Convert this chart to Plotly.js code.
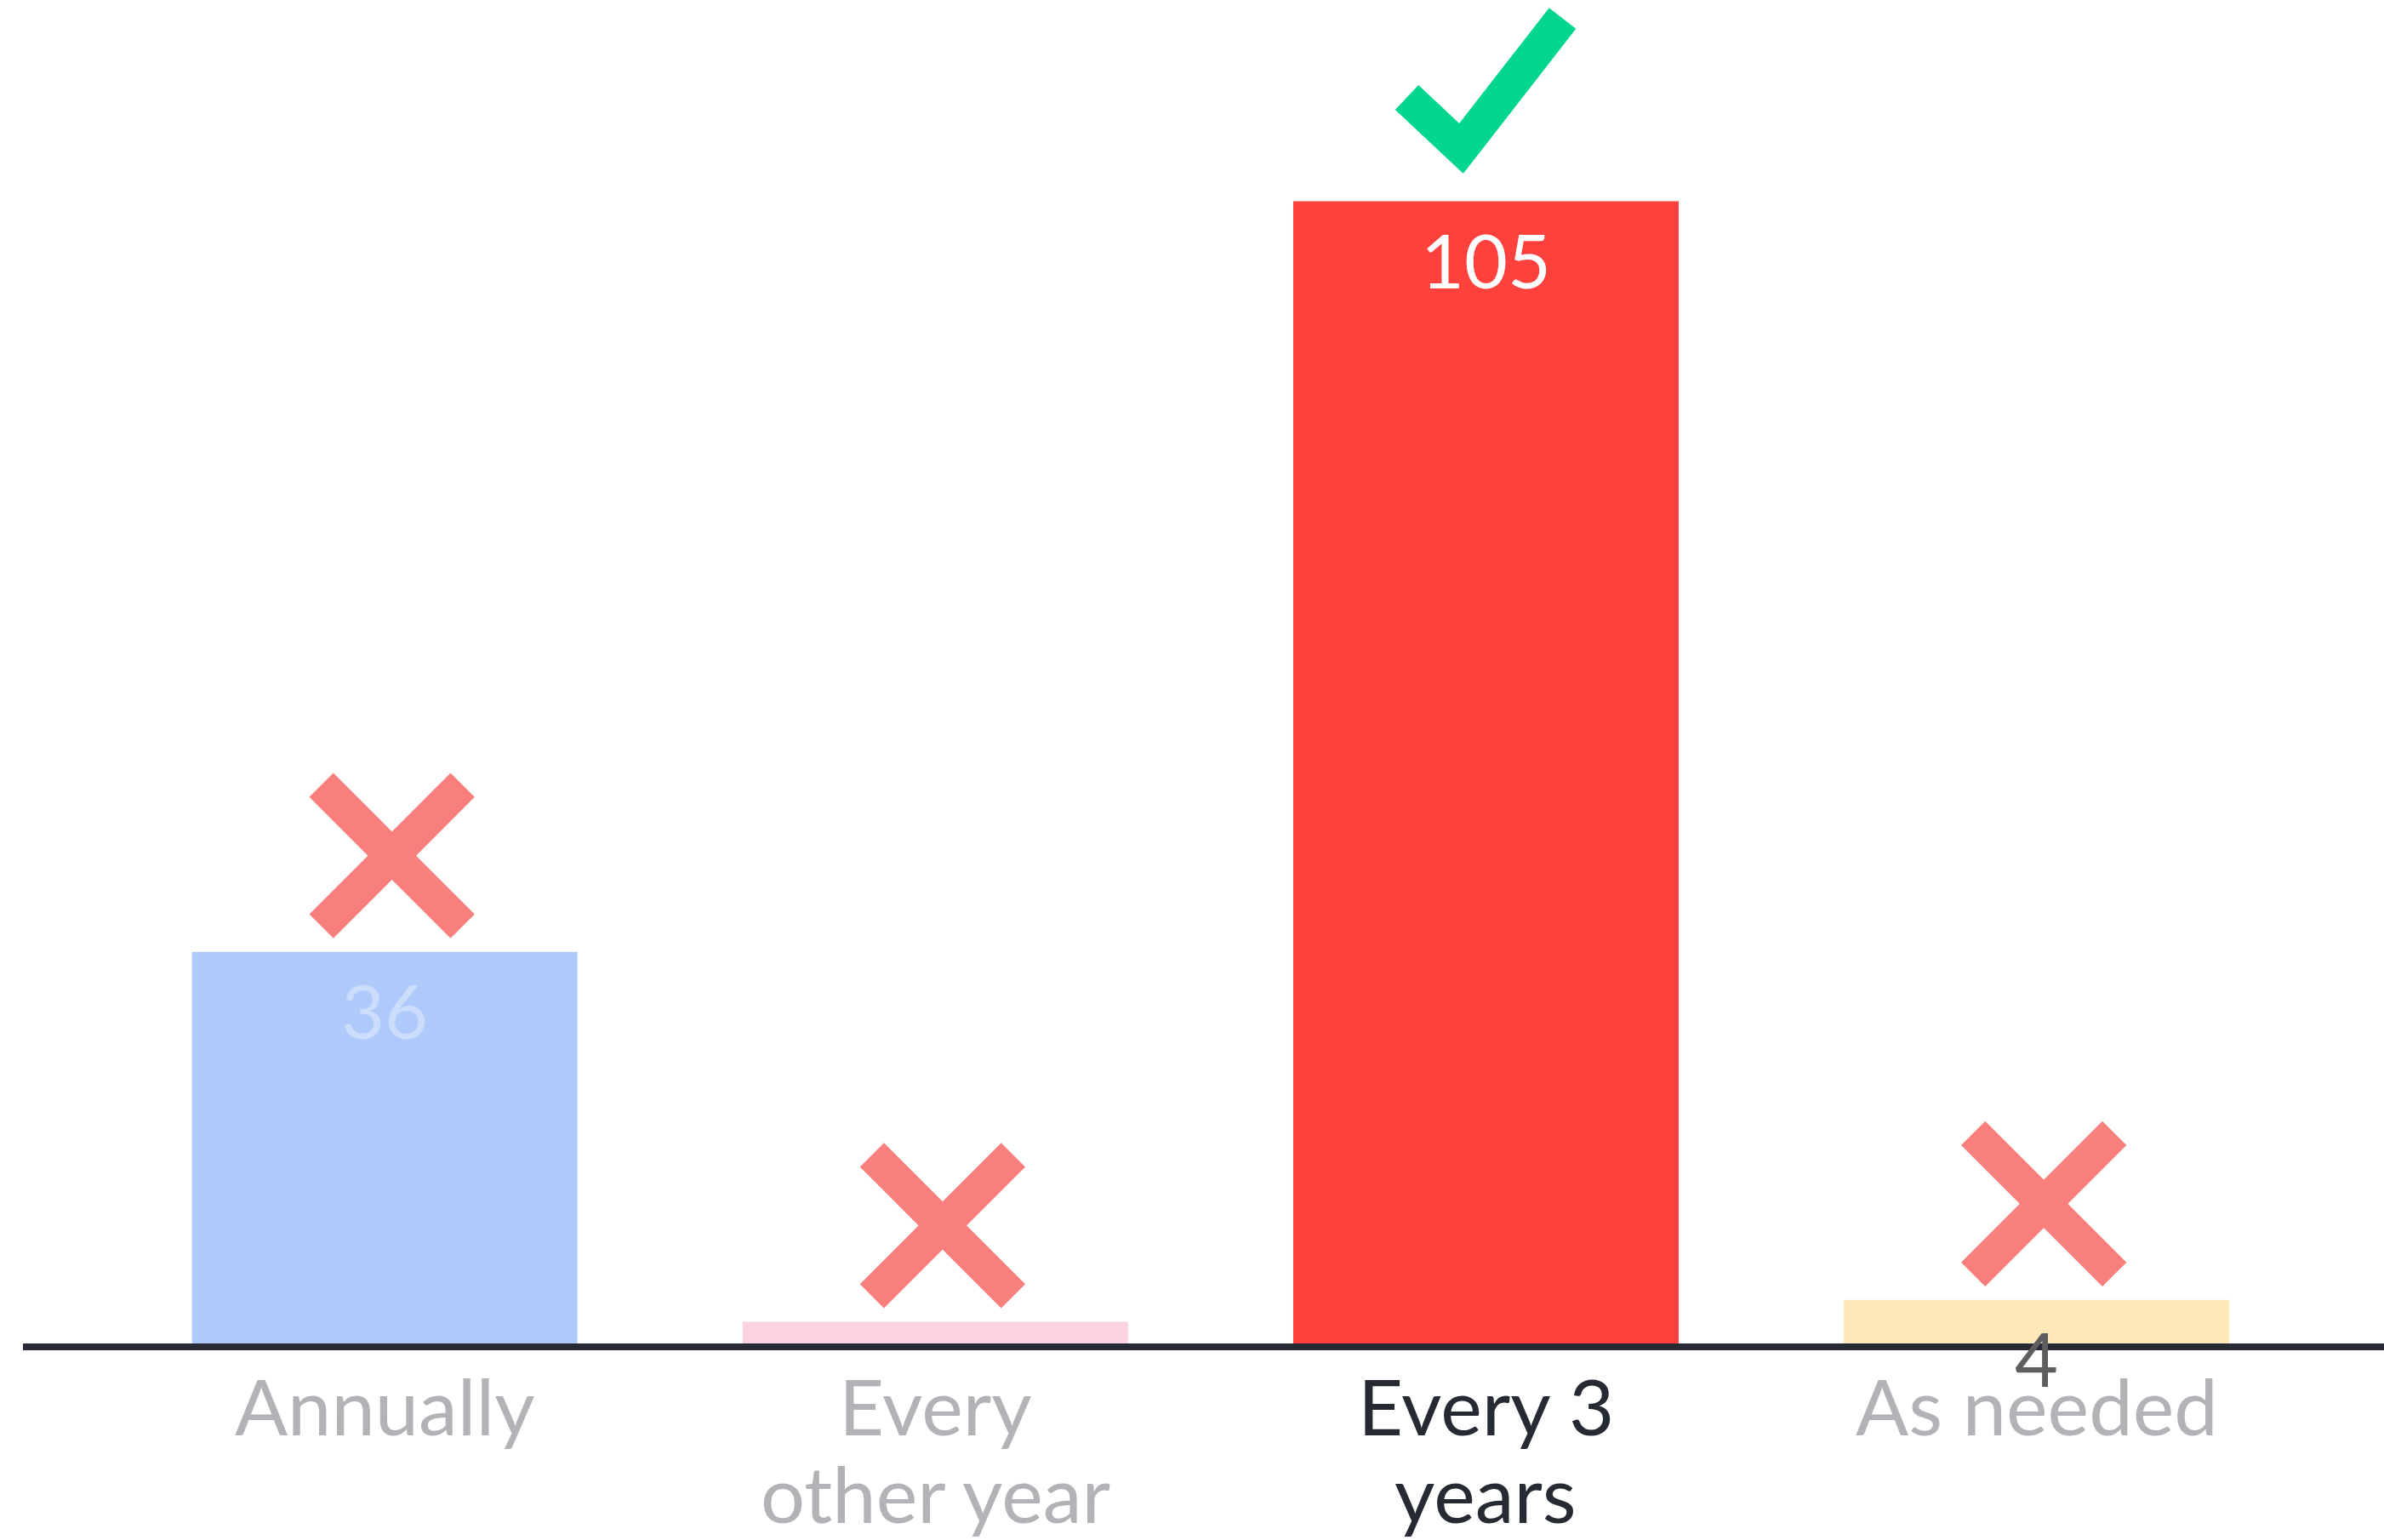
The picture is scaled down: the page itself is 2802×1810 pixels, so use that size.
<!DOCTYPE html>
<html>
<head>
<meta charset="utf-8">
<script src="https://cdn.plot.ly/plotly-3.0.1.min.js"></script>
<style>
  html, body { margin: 0; padding: 0; background: #ffffff; }
  #chart { width: 2802px; height: 1810px; }
</style>
</head>
<body>
<div id="chart"></div>
<script>
// ---- data ----
var categories = ['Annually', 'Every other year', 'Every 3 years', 'As needed'];
var tickLabelLines = [['Annually'], ['Every', 'other year'], ['Every 3', 'years'], ['As needed']];
var values = [36, 2, 105, 4];
var valueLabels = ['36', '', '105', '4'];
var verdicts = ['cross', 'cross', 'check', 'cross'];

// ---- styles ----
var barColors = ['#adcafb', '#fcd3e2', '#ff413e', '#fde8b7'];
var valueLabelColors = ['#cbdcfc', '#ffffff', '#ffffff', '#5e5e60'];
var tickColors = ['#b3b3b7', '#b3b3b7', '#262a33', '#b3b3b7'];
var crossColor = '#f87f7c';
var checkColor = '#03d78f';
var FONT = 'Lato, "Noto Sans", sans-serif';

var xIdx = categories.map(function (c, i) { return i; });

var trace = {
  type: 'bar',
  x: xIdx,
  y: values,
  width: 0.7,
  marker: { color: barColors, line: { width: 0 } },
  hoverinfo: 'skip',
  showlegend: false
};

var annotations = [];
// value labels inside bars near top
values.forEach(function (v, i) {
  if (!valueLabels[i]) return;
  annotations.push({
    x: xIdx[i], y: v, xref: 'x', yref: 'y',
    text: valueLabels[i], showarrow: false,
    xanchor: 'center', yanchor: 'middle', yshift: -68,
    font: { family: FONT, size: 88, color: valueLabelColors[i] }
  });
});
// category labels (tight two-line layout)
var lineShifts = [-72, -175];
tickLabelLines.forEach(function (lines, i) {
  lines.forEach(function (t, k) {
    annotations.push({
      x: xIdx[i], y: 0, xref: 'x', yref: 'paper',
      text: t, showarrow: false,
      xanchor: 'center', yanchor: 'middle', yshift: lineShifts[k],
      font: { family: FONT, size: 92, color: tickColors[i] }
    });
  });
});

// verdict icons anchored at each bar top (pixel-sized paths)
var crossPath = 'M -74.5,30 L 91.5,196 M -74.5,196 L 91.5,30';
var checkPath = 'M -93,122 L -29,62 L 90,215';
var shapes = verdicts.map(function (vd, i) {
  var isCheck = vd === 'check';
  return {
    type: 'path', layer: 'above',
    xref: 'x', yref: 'y',
    xsizemode: 'pixel', ysizemode: 'pixel',
    xanchor: xIdx[i], yanchor: values[i],
    path: isCheck ? checkPath : crossPath,
    line: { color: isCheck ? checkColor : crossColor, width: isCheck ? 40 : 40 }
  };
});

var layout = {
  width: 2802, height: 1810,
  margin: { l: 27, r: 0, t: 0, b: 231, pad: 0 },
  paper_bgcolor: '#ffffff', plot_bgcolor: '#ffffff',
  showlegend: false,
  bargap: 0.3,
  xaxis: {
    range: [-0.657, 3.631], fixedrange: true,
    tickvals: xIdx, ticktext: categories, showticklabels: false,
    showgrid: false, zeroline: false, ticks: '',
    showline: true, linecolor: '#262b35', linewidth: 8
  },
  yaxis: {
    range: [0, 123.5], fixedrange: true,
    showgrid: false, zeroline: false, showticklabels: false, showline: false, ticks: ''
  },
  annotations: annotations,
  shapes: shapes,
  font: { family: FONT }
};

Plotly.newPlot('chart', [trace], layout, { displayModeBar: false, staticPlot: true });
</script>
</body>
</html>
